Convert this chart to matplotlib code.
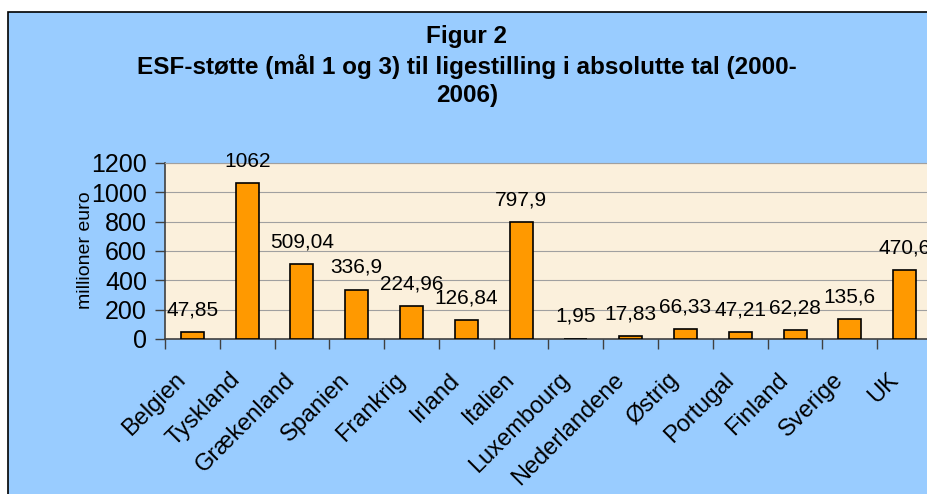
import matplotlib.pyplot as plt
import matplotlib.transforms as mtransforms
from matplotlib.patches import Rectangle
import numpy as np

plt.rcParams['font.family'] = ['Liberation Sans', 'DejaVu Sans']

countries = ["Belgien", "Tyskland", "Grækenland", "Spanien", "Frankrig", "Irland",
             "Italien", "Luxembourg", "Nederlandene", "Østrig", "Portugal",
             "Finland", "Sverige", "UK"]
values = [47.85, 1062, 509.04, 336.9, 224.96, 126.84, 797.9, 1.95, 17.83,
          66.33, 47.21, 62.28, 135.6, 470.6]
value_labels = ["47,85", "1062", "509,04", "336,9", "224,96", "126,84", "797,9",
                "1,95", "17,83", "66,33", "47,21", "62,28", "135,6", "470,6"]
y_ticks = [0, 200, 400, 600, 800, 1000, 1200]

fig = plt.figure(figsize=(9.27, 4.94), dpi=100)
fig.patch.set_facecolor("white")

# chart area frame (blue box with black border, runs off right/bottom edge)
frame = Rectangle((8 / 927, -0.05), 1.1, 1 - 12 / 494 + 0.05, transform=fig.transFigure,
                  facecolor="#99CCFF", edgecolor="black", linewidth=1.2, zorder=-10)
fig.patches.append(frame)

fig.text(467 / 927, 1 - 25 / 494,
         "Figur 2\nESF-støtte (mål 1 og 3) til ligestilling i absolutte tal (2000-\n2006)",
         ha="center", va="top", fontsize=17.5, fontweight="bold", linespacing=1.3)

ax = fig.add_axes([165 / 927, 155 / 494, 767 / 927, 176 / 494])
ax.set_facecolor("#FBF0DC")

x = np.arange(len(countries))
ax.bar(x, values, width=0.42, color="#FF9900", edgecolor="black", linewidth=1.2, zorder=3)

for xi, v, lab in zip(x, values, value_labels):
    ax.annotate(lab, (xi, v), xytext=(0, 16), textcoords="offset points",
                ha="center", va="center", fontsize=15, zorder=4)

ax.set_xlim(-0.5, len(countries) - 0.5)
ax.set_ylim(0, 1200)
ax.set_yticks(y_ticks)
ax.set_yticklabels([str(t) for t in y_ticks], fontsize=18)
ax.yaxis.grid(True, color="#A0A0A0", linewidth=0.8, zorder=0)
ax.tick_params(axis="y", direction="out", length=7, width=1, color="#404040", pad=6)

ax.set_xticks(x)
ax.set_xticklabels(countries, fontsize=17, rotation=45, ha="right", va="center",
                   rotation_mode="anchor")
ax.tick_params(axis="x", which="major", length=0, pad=27)
ax.set_xticks(np.arange(len(countries) + 1) - 0.5, minor=True)
ax.tick_params(axis="x", which="minor", direction="out", length=7, width=1, color="#404040")
shift = mtransforms.ScaledTranslation(-10 / 100, 0, fig.dpi_scale_trans)
for lbl in ax.get_xticklabels():
    lbl.set_transform(lbl.get_transform() + shift)

for side in ["left", "bottom"]:
    ax.spines[side].set_color("#404040")
    ax.spines[side].set_linewidth(1.2)
ax.spines["top"].set_color("#A0A0A0")
ax.spines["right"].set_visible(False)

ax.set_ylabel("millioner euro", fontsize=14)
ax.yaxis.set_label_coords((94 - 165) / 767, (339 - 250) / 176)

fig.savefig("out.png", dpi=100)
